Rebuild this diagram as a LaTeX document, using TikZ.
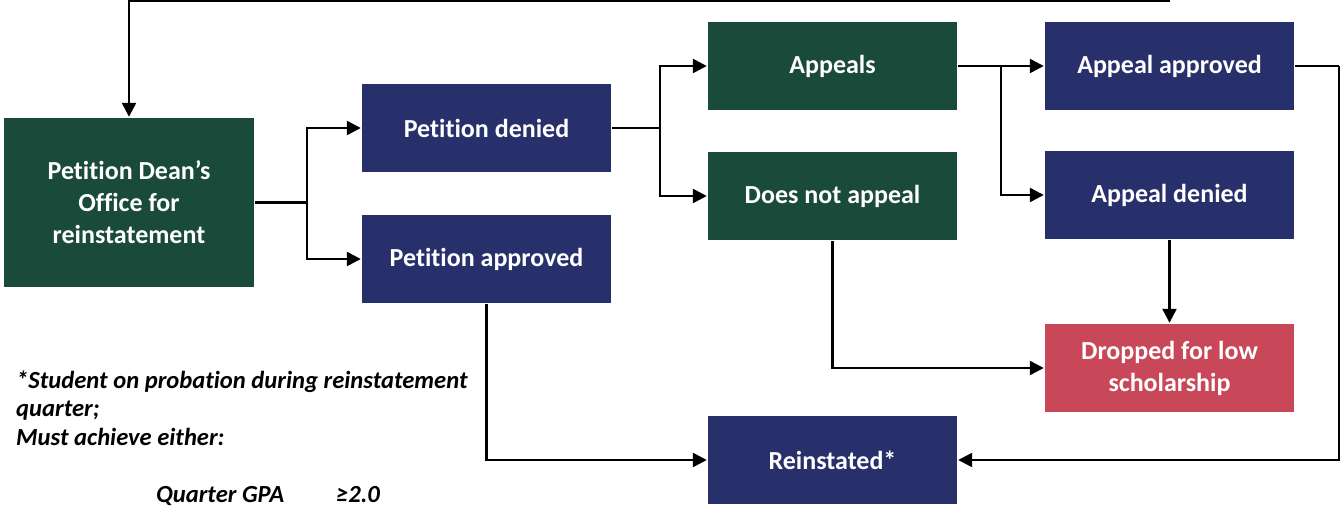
\documentclass[tikz,border=0pt]{standalone}
\usepackage{fontspec}
\setmainfont{Carlito}[Ligatures={TeX,NoCommon}]
\usetikzlibrary{arrows.meta}
\definecolor{deangreen}{HTML}{1A4A3A}
\definecolor{deannavy}{HTML}{28306C}
\definecolor{droppedred}{HTML}{C8485A}
\begin{document}
\begin{tikzpicture}[x=0.5pt,y=-0.5pt,line width=1.2pt,>={Triangle[length=7pt,width=7pt]}]

      \useasboundingbox (0,0) rectangle (1340,508);

      \begin{scope}[every node/.style={text=white,align=center,inner sep=0pt,
          minimum width=124.5pt,minimum height=44pt,
          font=\bfseries\fontsize{13}{16}\selectfont}]
        \node[fill=deangreen,minimum width=125pt,minimum height=84.5pt]
                                  (dean)    at (129,202.5) {Petition Dean's\\Office for\\reinstatement};
        \node[fill=deannavy]      (pden)    at (486.5,128) {Petition denied};
        \node[fill=deannavy]      (papp)    at (486.5,259) {Petition approved};
        \node[fill=deangreen]     (appeals) at (832.5,66)  {Appeals};
        \node[fill=deangreen]     (noapp)   at (832.5,196) {Does not appeal};
        \node[fill=deannavy]      (aapp)    at (1169.5,66) {Appeal approved};
        \node[fill=deannavy]      (aden)    at (1169.5,195) {Appeal denied};
        \node[fill=droppedred]    (drop)    at (1169.5,368) {Dropped for low\\scholarship};
        \node[fill=deannavy]      (rein)    at (832.5,460) {Reinstated*};
      \end{scope}

      \begin{scope}[every node/.style={anchor=base west,align=left,inner sep=0pt,
          font=\bfseries\itshape\fontsize{12.3}{14.2}\selectfont}]
        \node (note)   at (15,445)  {*Student on probation during reinstatement\\quarter;\\Must achieve either:};
        \node (gpa)    at (155,502) {Quarter GPA};
        \node (gpaval) at (335,502) {≥2.0};
      \end{scope}

      \coordinate (j1)   at (307,202.5);
      \coordinate (j2)   at (660,128);
      \coordinate (j3)   at (1001,66);
      \coordinate (rr)   at (1339,66);
      \coordinate (top)  at (1170,1);

      \draw     (dean.east)    -- (j1);
      \draw[->] (j1)           |- (pden.west);
      \draw[->] (j1)           |- (papp.west);
      \draw     (pden.east)    -- (j2);
      \draw[->] (j2)           |- (appeals.west);
      \draw[->] (j2)           |- (noapp.west);
      \draw[->] (appeals.east) -- (aapp.west);
      \draw[->] (j3)           |- (aden.west);
      \draw[->] (aden)         -- (drop);
      \draw[->] (noapp.south)  |- (drop.west);
      \draw[->] (papp.south)   |- (rein.west);
      \draw     (aapp.east)    -- (rr);
      \draw[->] (rr)           |- (rein.east);
      \draw[->] (top)          -| (dean.north);

    \end{tikzpicture}
\end{document}
